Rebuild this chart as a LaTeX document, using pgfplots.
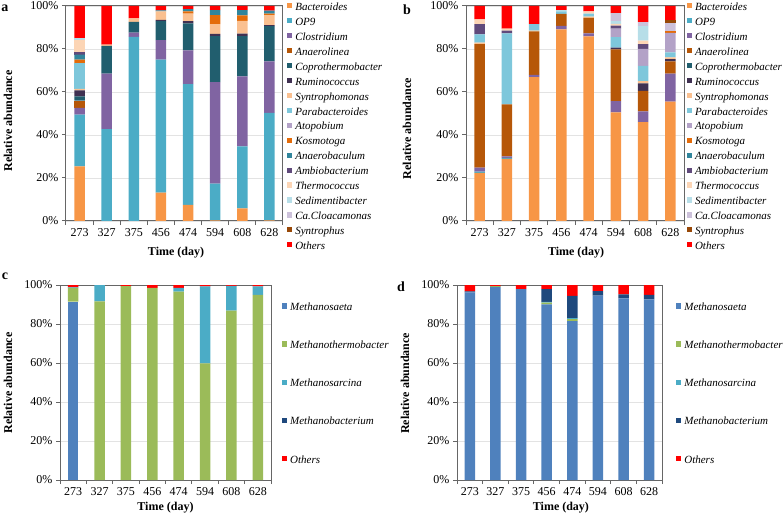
\documentclass[border=0pt]{standalone}
\usepackage{fontspec}
\setmainfont{Liberation Serif}
\usepackage{pgfplots}
\usepackage{pgfplotstable}
\pgfplotsset{compat=1.18}

% bacteria palette
\definecolor{cBact}{HTML}{F79646}
\definecolor{cOP9}{HTML}{4BACC6}
\definecolor{cClos}{HTML}{8064A2}
\definecolor{cAnae}{HTML}{B65708}
\definecolor{cCopro}{HTML}{215E6E}
\definecolor{cRumi}{HTML}{403152}
\definecolor{cSynt}{HTML}{FAC090}
\definecolor{cPara}{HTML}{7EC7DB}
\definecolor{cAtop}{HTML}{B3A2C7}
\definecolor{cKosm}{HTML}{E46C0A}
\definecolor{cAnaerob}{HTML}{31859C}
\definecolor{cAmbio}{HTML}{604A7B}
\definecolor{cThermo}{HTML}{FCD5B5}
\definecolor{cSedim}{HTML}{B7DEE8}
\definecolor{cCa}{HTML}{CCC1DA}
\definecolor{cSyntrophus}{HTML}{984807}
\definecolor{cOthers}{HTML}{FF0000}
% archaea palette
\definecolor{cSaeta}{HTML}{4F81BD}
\definecolor{cMThermo}{HTML}{9BBB59}
\definecolor{cSarcina}{HTML}{4BACC6}
\definecolor{cMBact}{HTML}{1F497D}

% panel a: bacteria, reactor 1
\pgfplotstableread{
x Bact OP9 Clos Anae Copro Rumi Synt Para Atop Kosm Anaerob Ambio Thermo Sedim Ca Syntrophus Others
0 25.4 24.1 3.1 3.4 2.0 2.7 0.8 12.0 0 1.5 2.4 1.3 5.7 0.8 0 0 14.8
1 0 42.7 25.8 0 13.0 0 0.5 0 0 0 0 0 0 0 0 0 18.0
2 0 85.6 2.0 0 5.0 0 1.6 0 0 0 0 0 0 0 0 0 5.8
3 13.2 61.9 9.0 0 8.9 0.5 4.0 0 0 0 0.5 0 0 0 0 0 2.0
4 7.5 56.2 15.7 0 12.5 1.1 3.5 0 0 1.0 1.0 0 0 0 0 0 1.5
5 0.3 17.1 47.2 0 21.4 1.0 4.6 0 0 4.2 2.3 0 0 0 0 0 1.9
6 5.9 28.8 32.6 0 18.7 1.2 5.9 0 0 2.5 2.5 0 0 0 0 0 1.9
7 0.3 50.0 24.0 0 16.3 0.5 4.7 0 0 0.7 1.3 0 0 0 0 0 2.2
}\tA

% panel b: bacteria, reactor 2
\pgfplotstableread{
x Bact OP9 Clos Anae Copro Rumi Synt Para Atop Kosm Anaerob Ambio Thermo Sedim Ca Syntrophus Others
0 22.4 0.6 1.8 57.5 0 0 0.7 3.8 0 0 0 4.8 2.2 0 0 0 6.2
1 28.9 0.5 0.7 24.1 0 0 0 33.1 0 0 0 1.2 1.0 0 0 0 10.5
2 66.9 0 1.1 20.2 0 0 0.4 3.0 0 0 0 0 0 0 0 0 8.4
3 89.1 0 1.6 5.6 0 0 0 1.2 0 0 0 0 0 0.6 0 0 1.9
4 85.9 0 1.4 7.2 0 0 0.5 1.5 0 0 0 0 1.0 0 0 0 2.5
5 50.5 0 5.3 24.0 0 0.8 0 4.9 4.0 0 0 1.4 0.8 1.3 3.7 0 3.3
6 46.0 0 5.0 9.5 0 3.5 1.0 7.2 7.8 0 0 2.3 1.6 6.7 1.9 0 7.5
7 55.5 0 13.0 5.8 0 1.0 0.8 2.3 9.1 0.8 0 0 0 0 3.7 1.3 6.7
}\tB

% panel c: archaea, reactor 1
\pgfplotstableread{
x Saeta MThermo Sarcina MBact Others
0 91.5 7.0 0.3 0 1.2
1 0 91.6 8.4 0 0
2 0 99.4 0 0 0.6
3 0 98.5 0 0 1.5
4 0 96.6 1.9 0 1.5
5 0 59.8 39.5 0 0.7
6 0 86.8 12.7 0 0.5
7 0 95.0 4.3 0 0.7
}\tC

% panel d: archaea, reactor 2
\pgfplotstableread{
x Saeta MThermo Sarcina MBact Others
0 96.2 0 0 0.5 3.3
1 99.1 0.3 0 0 0.6
2 97.9 0 0 0 2.1
3 90.1 0.9 0.3 6.6 2.1
4 81.5 1.0 0.5 11.4 5.6
5 94.5 0 0 2.4 3.1
6 93.2 0 0 2.0 4.8
7 92.6 0 0 2.3 5.1
}\tD

\pgfplotsset{
  panel/.style={
    scale only axis, anchor=south west,
    ybar stacked, bar width=10.5pt,
    ymin=0, ymax=100, xmin=-0.5, xmax=7.5,
    xtick={-0.5,0.5,...,7.5}, x tick label as interval,
    xticklabels={273,327,375,456,474,594,608,628},
    ytick={0,20,...,100}, yticklabels={0\%,20\%,40\%,60\%,80\%,100\%},
    tick align=outside, xtick pos=bottom, ytick pos=left, major tick length=4pt,
    ymajorgrids, grid style={gray!22, line width=0.8pt},
    axis line style={black!60, line width=1pt},
    tick style={black!60, line width=1pt},
    ticklabel style={font=\fontsize{12}{14}\selectfont},
    label style={font=\bfseries\fontsize{12}{14}\selectfont},
    xlabel={Time (day)}, ylabel={Relative abundance},
    legend cell align=left,
    legend style={draw=none, fill=none, inner sep=0pt, anchor=north west,
      column sep=3pt, font=\itshape\fontsize{11}{13}\selectfont,
      nodes={inner sep=0pt, text height=7.5pt, text depth=2.5pt}},
    legend image code/.code={\fill[##1] (0pt,-0.4pt) rectangle (5.2pt,4.8pt);},
  },
  bactlegend/.style={legend entries={Bacteroides, OP9, Clostridium, Anaerolinea,
    Coprothermobacter, Ruminococcus, Syntrophomonas, Parabacteroides, Atopobium,
    Kosmotoga, Anaerobaculum, Ambiobacterium, Thermococcus, Sedimentibacter,
    Ca.Cloacamonas, Syntrophus, Others}},
  archlegend/.style={legend entries={Methanosaeta, Methanothermobacter,
    Methanosarcina, Methanobacterium, Others},
    legend style={font=\itshape\fontsize{11}{13}\selectfont, row sep=28.1pt}},
}

\begin{document}
\begin{tikzpicture}
\useasboundingbox (0,0) rectangle (784pt,520pt);

% ---------- a ----------
\begin{axis}[panel, bactlegend, at={(66pt,299pt)}, width=217pt, height=215pt,
  xlabel style={at={(axis description cs:0.507,-0.149)}, anchor=center},
  ylabel style={at={(axis description cs:-0.267,0.465)}, anchor=center},
  legend style={at={(axis description cs:1.018,1.015)}, row sep=4.94pt}]
\addplot[fill=cBact, draw=none] table[x=x, y=Bact] {\tA};
\addplot[fill=cOP9, draw=none] table[x=x, y=OP9] {\tA};
\addplot[fill=cClos, draw=none] table[x=x, y=Clos] {\tA};
\addplot[fill=cAnae, draw=none] table[x=x, y=Anae] {\tA};
\addplot[fill=cCopro, draw=none] table[x=x, y=Copro] {\tA};
\addplot[fill=cRumi, draw=none] table[x=x, y=Rumi] {\tA};
\addplot[fill=cSynt, draw=none] table[x=x, y=Synt] {\tA};
\addplot[fill=cPara, draw=none] table[x=x, y=Para] {\tA};
\addplot[fill=cAtop, draw=none] table[x=x, y=Atop] {\tA};
\addplot[fill=cKosm, draw=none] table[x=x, y=Kosm] {\tA};
\addplot[fill=cAnaerob, draw=none] table[x=x, y=Anaerob] {\tA};
\addplot[fill=cAmbio, draw=none] table[x=x, y=Ambio] {\tA};
\addplot[fill=cThermo, draw=none] table[x=x, y=Thermo] {\tA};
\addplot[fill=cSedim, draw=none] table[x=x, y=Sedim] {\tA};
\addplot[fill=cCa, draw=none] table[x=x, y=Ca] {\tA};
\addplot[fill=cSyntrophus, draw=none] table[x=x, y=Syntrophus] {\tA};
\addplot[fill=cOthers, draw=none] table[x=x, y=Others] {\tA};
\end{axis}

% ---------- b ----------
\begin{axis}[panel, bactlegend, at={(466pt,299pt)}, width=218pt, height=215pt,
  xlabel style={at={(axis description cs:0.505,-0.149)}, anchor=center},
  ylabel style={at={(axis description cs:-0.271,0.43)}, anchor=center},
  legend style={at={(axis description cs:1.012,1.015)}, row sep=4.94pt}]
\addplot[fill=cBact, draw=none] table[x=x, y=Bact] {\tB};
\addplot[fill=cOP9, draw=none] table[x=x, y=OP9] {\tB};
\addplot[fill=cClos, draw=none] table[x=x, y=Clos] {\tB};
\addplot[fill=cAnae, draw=none] table[x=x, y=Anae] {\tB};
\addplot[fill=cCopro, draw=none] table[x=x, y=Copro] {\tB};
\addplot[fill=cRumi, draw=none] table[x=x, y=Rumi] {\tB};
\addplot[fill=cSynt, draw=none] table[x=x, y=Synt] {\tB};
\addplot[fill=cPara, draw=none] table[x=x, y=Para] {\tB};
\addplot[fill=cAtop, draw=none] table[x=x, y=Atop] {\tB};
\addplot[fill=cKosm, draw=none] table[x=x, y=Kosm] {\tB};
\addplot[fill=cAnaerob, draw=none] table[x=x, y=Anaerob] {\tB};
\addplot[fill=cAmbio, draw=none] table[x=x, y=Ambio] {\tB};
\addplot[fill=cThermo, draw=none] table[x=x, y=Thermo] {\tB};
\addplot[fill=cSedim, draw=none] table[x=x, y=Sedim] {\tB};
\addplot[fill=cCa, draw=none] table[x=x, y=Ca] {\tB};
\addplot[fill=cSyntrophus, draw=none] table[x=x, y=Syntrophus] {\tB};
\addplot[fill=cOthers, draw=none] table[x=x, y=Others] {\tB};
\end{axis}

% ---------- c ----------
\begin{axis}[panel, archlegend, at={(60pt,40pt)}, width=211pt, height=195pt,
  xlabel style={at={(axis description cs:0.5,-0.144)}, anchor=center},
  ylabel style={at={(axis description cs:-0.246,0.497)}, anchor=center},
  legend style={at={(axis description cs:1.051,0.908)}}]
\addplot[fill=cSaeta, draw=none] table[x=x, y=Saeta] {\tC};
\addplot[fill=cMThermo, draw=none] table[x=x, y=MThermo] {\tC};
\addplot[fill=cSarcina, draw=none] table[x=x, y=Sarcina] {\tC};
\addplot[fill=cMBact, draw=none] table[x=x, y=MBact] {\tC};
\addplot[fill=cOthers, draw=none] table[x=x, y=Others] {\tC};
\end{axis}

% ---------- d ----------
\begin{axis}[panel, archlegend, at={(457pt,40pt)}, width=205pt, height=195pt,
  xlabel style={at={(axis description cs:0.507,-0.144)}, anchor=center},
  ylabel style={at={(axis description cs:-0.254,0.495)}, anchor=center},
  legend style={at={(axis description cs:1.068,0.908)}}]
\addplot[fill=cSaeta, draw=none] table[x=x, y=Saeta] {\tD};
\addplot[fill=cMThermo, draw=none] table[x=x, y=MThermo] {\tD};
\addplot[fill=cSarcina, draw=none] table[x=x, y=Sarcina] {\tD};
\addplot[fill=cMBact, draw=none] table[x=x, y=MBact] {\tD};
\addplot[fill=cOthers, draw=none] table[x=x, y=Others] {\tD};
\end{axis}

% panel letters
\node[font=\bfseries\fontsize{14}{16}\selectfont] at (5pt,512pt) {a};
\node[font=\bfseries\fontsize{14}{16}\selectfont] at (407pt,510pt) {b};
\node[font=\bfseries\fontsize{14}{16}\selectfont] at (5pt,244pt) {c};
\node[font=\bfseries\fontsize{14}{16}\selectfont] at (401pt,233pt) {d};
\end{tikzpicture}
\end{document}
